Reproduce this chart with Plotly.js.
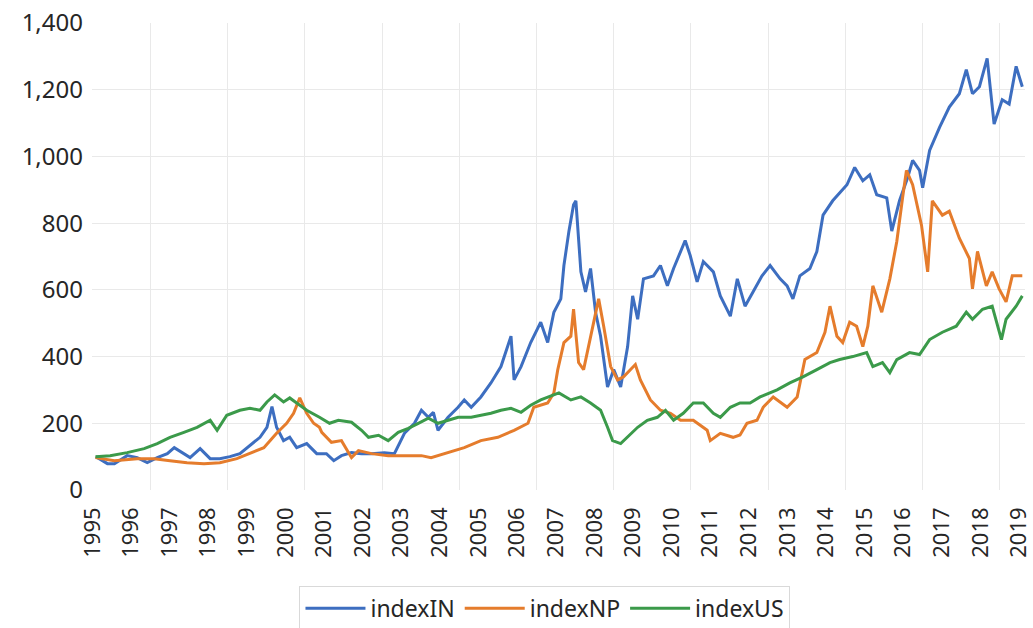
<!DOCTYPE html>
<html>
<head>
<meta charset="utf-8">
<script src="https://cdn.plot.ly/plotly-3.0.1.min.js"></script>
<style>html,body{margin:0;padding:0;background:#fff;}#chart{width:1033px;height:628px;}</style>
</head>
<body>
<div id="chart"></div>
<script>
// Time axis in fractional years (label-year units)
var yearLabels = ['1995','1996','1997','1998','1999','2000','2001','2002','2003','2004','2005','2006','2007','2008','2009','2010','2011','2012','2013','2014','2015','2016','2017','2018','2019'];
var yearTicks = [1995,1996,1997,1998,1999,2000,2001,2002,2003,2004,2005,2006,2007,2008,2009,2010,2011,2012,2013,2014,2015,2016,2017,2018,2019];
var gridYears = [1996.5,1998.5,2000.5,2002.5,2004.5,2006.5,2008.5,2010.5,2012.5,2014.5,2016.5,2018.5];

var dateIN = [1995.09,1995.39,1995.57,1995.90,1996.16,1996.42,1996.68,1996.94,1997.12,1997.37,1997.53,1997.79,1998.05,1998.30,1998.56,1998.82,1999.08,1999.34,1999.52,1999.65,1999.77,1999.95,2000.11,2000.29,2000.55,2000.81,2001.06,2001.25,2001.45,2001.71,2001.97,2002.23,2002.56,2002.82,2003.08,2003.34,2003.52,2003.70,2003.83,2003.95,2004.21,2004.47,2004.63,2004.81,2005.06,2005.32,2005.58,2005.84,2005.92,2006.10,2006.35,2006.61,2006.79,2006.95,2007.13,2007.21,2007.34,2007.46,2007.52,2007.65,2007.77,2007.90,2008.03,2008.16,2008.34,2008.50,2008.68,2008.86,2008.99,2009.12,2009.27,2009.53,2009.71,2009.89,2010.05,2010.23,2010.35,2010.48,2010.66,2010.82,2011.08,2011.26,2011.52,2011.70,2011.90,2012.11,2012.34,2012.55,2012.81,2012.99,2013.14,2013.32,2013.58,2013.76,2013.92,2014.17,2014.54,2014.74,2014.95,2015.13,2015.31,2015.57,2015.70,2015.90,2016.11,2016.24,2016.42,2016.50,2016.68,2016.94,2017.19,2017.45,2017.63,2017.79,2017.97,2018.17,2018.35,2018.56,2018.74,2018.92,2019.08];
var indexIN = [100,79,79,103,97,82,97,109,127,109,97,124,94,94,100,109,133,158,188,250,188,148,158,127,139,109,109,88,103,112,109,109,112,109,170,200,239,218,233,179,218,248,270,248,279,321,370,461,330,370,442,503,442,533,573,673,776,855,867,654,594,664,533,461,309,361,309,430,582,512,633,642,673,612,664,715,748,703,624,685,654,582,521,633,551,594,642,673,633,612,573,642,664,715,824,867,915,967,927,945,885,876,776,867,936,988,958,906,1018,1088,1148,1188,1260,1188,1209,1294,1097,1170,1157,1270,1209];

var dateNP = [1995.08,1995.57,1996.16,1996.60,1997.01,1997.45,1997.89,1998.30,1998.74,1999.08,1999.44,1999.77,2000.03,2000.21,2000.37,2000.55,2000.73,2000.88,2000.94,2001.19,2001.45,2001.71,2001.89,2002.23,2002.66,2003.08,2003.52,2003.77,2004.21,2004.63,2005.06,2005.50,2005.92,2006.28,2006.43,2006.79,2006.95,2007.05,2007.21,2007.39,2007.46,2007.59,2007.72,2007.95,2008.11,2008.24,2008.42,2008.60,2008.75,2009.06,2009.19,2009.45,2009.71,2009.97,2010.23,2010.56,2010.92,2011.00,2011.26,2011.59,2011.77,2011.95,2012.21,2012.37,2012.55,2012.63,2012.99,2013.25,2013.45,2013.76,2013.97,2014.10,2014.28,2014.43,2014.61,2014.79,2014.95,2015.08,2015.21,2015.44,2015.65,2015.83,2015.98,2016.08,2016.24,2016.47,2016.63,2016.75,2017.01,2017.19,2017.45,2017.71,2017.79,2017.92,2018.15,2018.30,2018.48,2018.66,2018.82,2019.08];
var indexNP = [97,88,94,94,88,82,79,82,94,109,127,170,200,230,276,230,200,188,173,143,148,97,118,109,103,103,103,97,112,127,148,158,179,200,248,261,291,360,442,461,542,382,361,482,573,491,370,330,339,376,330,270,239,230,209,209,179,148,170,158,165,200,209,248,270,279,248,279,391,412,473,551,461,442,503,491,430,491,612,533,633,745,876,958,915,794,654,867,824,836,755,694,603,715,612,654,603,564,642,642];

var dateUS = [1995.08,1995.46,1995.90,1996.34,1996.68,1997.01,1997.37,1997.71,1998.05,1998.23,1998.48,1998.82,1999.08,1999.34,1999.52,1999.72,1999.95,2000.11,2000.29,2000.55,2000.88,2001.14,2001.37,2001.71,2001.97,2002.15,2002.41,2002.66,2002.92,2003.18,2003.44,2003.70,2003.95,2004.21,2004.47,2004.81,2005.06,2005.32,2005.58,2005.84,2006.10,2006.35,2006.61,2006.95,2007.08,2007.39,2007.65,2007.90,2008.16,2008.34,2008.47,2008.68,2008.86,2009.12,2009.37,2009.63,2009.84,2010.05,2010.30,2010.56,2010.82,2011.08,2011.26,2011.52,2011.77,2012.03,2012.29,2012.73,2013.06,2013.40,2013.76,2014.10,2014.35,2014.69,2015.05,2015.21,2015.46,2015.65,2015.83,2016.16,2016.42,2016.68,2017.01,2017.37,2017.63,2017.79,2018.05,2018.30,2018.54,2018.66,2018.92,2019.08];
var indexUS = [100,103,112,124,139,158,173,188,209,179,224,239,245,239,264,285,264,276,261,239,218,200,209,203,179,158,164,148,173,185,200,215,200,209,218,218,224,230,239,245,233,254,270,285,291,270,279,261,239,188,148,139,158,188,209,218,239,209,230,261,261,230,218,248,261,261,279,300,321,339,361,382,391,400,412,370,382,352,391,412,406,451,473,491,533,512,542,551,451,512,551,582];

var names = ['indexIN','indexNP','indexUS'];
var colors = ['#3d6ec0','#e57c2c','#3b9a4a'];

var yTickFont = {family:'Noto Sans, sans-serif', size:24, color:'#262626'};
var xTickFont = {family:'Noto Sans, sans-serif', size:22, color:'#262626'};

var traces = [
  {x:dateIN, y:indexIN, name:names[0]},
  {x:dateNP, y:indexNP, name:names[1]},
  {x:dateUS, y:indexUS, name:names[2]}
].map(function(t,i){
  t.type='scatter'; t.mode='lines';
  t.line={color:colors[i], width:3};
  return t;
});

var layout = {
  width:1033, height:628,
  margin:{l:92, r:8, t:23, b:138, autoexpand:false},
  paper_bgcolor:'#fff', plot_bgcolor:'#fff',
  showlegend:true,
  legend:{orientation:'h', x:0.4855, xanchor:'center', y:-0.205, yanchor:'top',
          bordercolor:'#d9d9d9', borderwidth:1,
          font:{family:'Noto Sans, sans-serif', size:23, color:'#262626'},
          itemwidth:60, tracegroupgap:0},
  xaxis:{range:[1994.99, 2019.15], tickmode:'array', tickvals:yearTicks, ticktext:yearLabels,
         tickangle:-90, tickfont:xTickFont, showgrid:false, zeroline:false, showline:false,
         ticks:'', ticklabelstandoff:12, ticklabeloverflow:'allow', automargin:false,
         minor:{tickmode:'array', tickvals:gridYears, showgrid:true, gridcolor:'#e9e9e9', gridwidth:1, ticks:''}},
  yaxis:{range:[0,1400], tickmode:'linear', tick0:0, dtick:200, tickformat:',d',
         tickfont:yTickFont, showgrid:true, gridcolor:'#e9e9e9', gridwidth:1, automargin:false,
         zeroline:false, showline:false, ticks:'', ticklabelstandoff:8}
};

Plotly.newPlot('chart', traces, layout, {displayModeBar:false, staticPlot:true});
</script>
</body>
</html>
